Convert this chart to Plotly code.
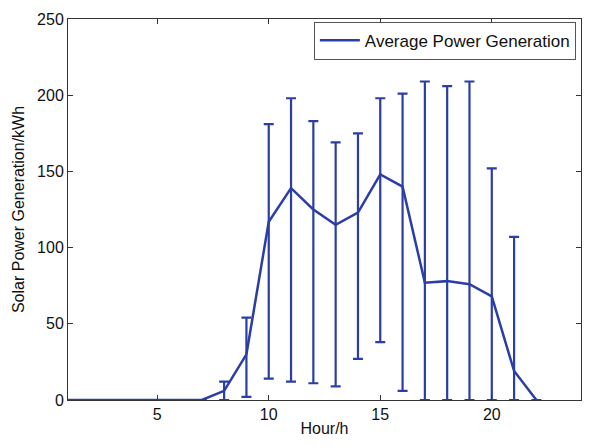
import plotly.graph_objects as go

hours = list(range(1, 23))
mean_power = [0, 0, 0, 0, 0, 0, 0, 6, 30, 117, 139, 125, 115, 123, 148, 140, 77, 78, 76, 68, 19, 0]
upper_bound = [0, 0, 0, 0, 0, 0, 0, 12, 54, 181, 198, 183, 169, 175, 198, 201, 209, 206, 209, 152, 107, 0]
lower_bound = [0, 0, 0, 0, 0, 0, 0, 0, 2, 14, 12, 11, 9, 27, 38, 6, 0, 0, 0, 0, 0, 0]

x_ticks = [5, 10, 15, 20]
y_ticks = [0, 50, 100, 150, 200, 250]

err_plus = [u - m for u, m in zip(upper_bound, mean_power)]
err_minus = [m - l for m, l in zip(mean_power, lower_bound)]

blue = "#2B3EA6"
font = "Liberation Sans, Arial, sans-serif"

fig = go.Figure()
fig.add_trace(go.Scatter(
    x=hours, y=mean_power, mode="lines",
    name="Average Power Generation",
    line=dict(color=blue, width=2.5),
    error_y=dict(type="data", symmetric=False, array=err_plus, arrayminus=err_minus,
                 color=blue, thickness=2.2, width=5),
))

axis_common = dict(
    showline=True, linecolor="#333333", linewidth=1, mirror="ticks",
    ticks="inside", ticklen=5, tickcolor="#333333", showgrid=False, zeroline=False,
    automargin=False,
    tickfont=dict(family=font, size=16, color="#111111"),
)
fig.update_xaxes(range=[1, 24], tickvals=x_ticks, title=dict(text="Hour/h", standoff=0,
                 font=dict(family=font, size=16, color="#111111")), **axis_common)
fig.update_yaxes(range=[0, 250], tickvals=y_ticks, title=dict(text="Solar Power Generation/kWh", standoff=8,
                 font=dict(family=font, size=16, color="#111111")), **axis_common)

fig.update_layout(
    width=603, height=448,
    margin=dict(l=60, r=30, t=11, b=56),
    paper_bgcolor="white", plot_bgcolor="white",
    showlegend=True,
    legend=dict(x=0.99, y=0.993, xanchor="right", yanchor="top",
                bordercolor="#555555", borderwidth=1, bgcolor="white",
                font=dict(family=font, size=17, color="#111111"),
                tracegroupgap=0, itemwidth=40),
)

fig.write_html("out.html")
